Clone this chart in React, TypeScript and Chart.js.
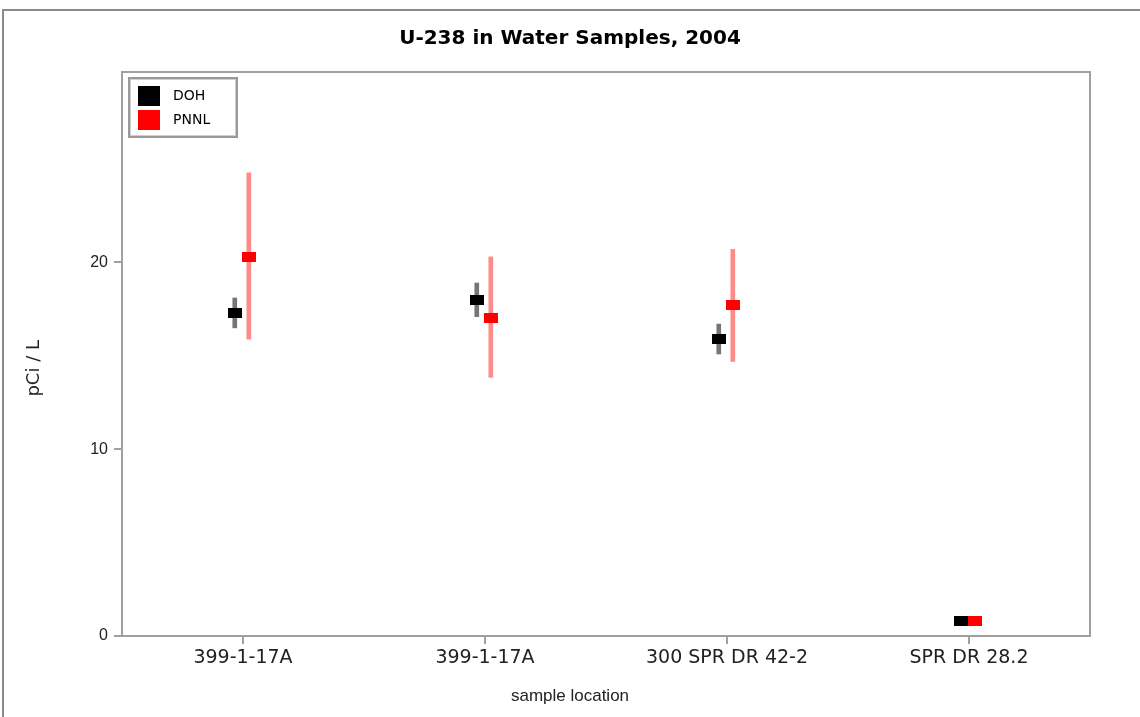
import React, { useEffect, useRef } from 'react';
import { Chart, registerables } from 'chart.js';

Chart.register(...registerables);

// ---- data ----
const categories = ['399-1-17A', '399-1-17A', '300 SPR DR 42-2', 'SPR DR 28.2'];
const seriesNames = ['DOH', 'PNNL'];
const dohValues = [17.3, 18.0, 15.9, 0.8];
const dohLow = [16.5, 17.1, 15.1, 0.8];
const dohHigh = [18.1, 18.9, 16.7, 0.8];
const pnnlValues = [20.3, 17.05, 17.7, 0.8];
const pnnlLow = [15.9, 13.85, 14.7, 0.8];
const pnnlHigh = [24.8, 20.3, 20.7, 0.8];
const yTickValues = [0, 10, 20];

// ---- layout / style constants ----
const DOH_SHIFT = -0.034;
const PNNL_SHIFT = 0.024;
const FONT = "'Liberation Sans', Arial, sans-serif";
const WIDE = "'DejaVu Sans', Verdana, sans-serif";

function rectImage(w: number, h: number, color: string) {
  const c = document.createElement('canvas');
  c.width = w;
  c.height = h;
  const ctx = c.getContext('2d')!;
  ctx.fillStyle = color;
  ctx.fillRect(0, 0, w, h);
  return c;
}

export default function App() {
  const ref = useRef<HTMLCanvasElement>(null);

  useEffect(() => {
    const canvas = ref.current;
    if (!canvas) return;
    const dohMarker = rectImage(14, 10, '#000000');
    const pnnlMarker = rectImage(14, 10, '#ff0000');
    const dohLegend = rectImage(22, 20, '#000000');
    const pnnlLegend = rectImage(22, 20, '#ff0000');

    const framePlugin = {
      id: 'frames',
      afterLayout(chart: any) {
        const lg = chart.legend;
        const ca = chart.chartArea;
        if (lg) {
          const w = lg.width;
          const h = lg.height;
          lg.left = ca.left;
          lg.top = ca.top + 7;
          lg.right = lg.left + w;
          lg.bottom = lg.top + h;
        }
      },
      beforeDatasetsDraw(chart: any) {
        const { ctx, chartArea: ca } = chart;
        ctx.save();
        ctx.strokeStyle = '#a0a0a0';
        ctx.lineWidth = 2;
        ctx.strokeRect(ca.left, ca.top, ca.right - ca.left, ca.bottom - ca.top);
        ctx.restore();
      },
      afterDraw(chart: any) {
        const { ctx, chartArea: ca } = chart;
        ctx.save();
        ctx.strokeStyle = '#999999';
        ctx.lineWidth = 2;
        ctx.strokeRect(ca.left + 7, ca.top + 6, 108, 59);
        ctx.strokeStyle = '#d0d0d0';
        ctx.lineWidth = 1;
        ctx.strokeRect(ca.left + 8.5, ca.top + 7.5, 105, 56);
        ctx.restore();
      },
    };

    const chart = new Chart(canvas, {
      type: 'scatter',
      plugins: [framePlugin],
      data: {
        datasets: [
          {
            type: 'bar',
            label: seriesNames[0] + ' error',
            data: categories.map((_, i) => ({ x: i + DOH_SHIFT, y: [dohLow[i], dohHigh[i]] })) as any,
            backgroundColor: '#767676',
            borderWidth: 0,
            grouped: false,
            barPercentage: 1,
            categoryPercentage: 1,
            maxBarThickness: 4,
            order: 2,
          } as any,
          {
            type: 'bar',
            label: seriesNames[1] + ' error',
            data: categories.map((_, i) => ({ x: i + PNNL_SHIFT, y: [pnnlLow[i], pnnlHigh[i]] })) as any,
            backgroundColor: '#ff8a8a',
            borderWidth: 0,
            grouped: false,
            barPercentage: 1,
            categoryPercentage: 1,
            maxBarThickness: 4,
            order: 2,
          } as any,
          {
            type: 'scatter',
            label: seriesNames[0],
            data: categories.map((_, i) => ({ x: i + DOH_SHIFT, y: dohValues[i] })),
            pointStyle: dohMarker as any,
            pointRadius: 7,
            backgroundColor: '#000000',
            borderColor: '#000000',
            showLine: false,
            order: 1,
          },
          {
            type: 'scatter',
            label: seriesNames[1],
            data: categories.map((_, i) => ({ x: i + PNNL_SHIFT, y: pnnlValues[i] })),
            pointStyle: pnnlMarker as any,
            pointRadius: 7,
            backgroundColor: '#ff0000',
            borderColor: '#ff0000',
            showLine: false,
            order: 1,
          },
        ],
      },
      options: {
        responsive: false,
        animation: false,
        events: [],
        layout: { padding: 0 },
        plugins: {
          title: {
            display: true,
            text: 'U-238 in Water Samples, 2004',
            color: '#000',
            font: { family: WIDE, size: 20, weight: 'bold' },
            padding: { top: 27, bottom: 21 },
          },
          subtitle: {
            display: true,
            position: 'bottom',
            text: 'sample location',
            color: '#222',
            font: { family: FONT, size: 17, weight: 'normal' },
            padding: { top: 0, bottom: 10 },
          },
          legend: {
            position: 'chartArea' as any,
            align: 'start',
            labels: {
              usePointStyle: true,
              pointStyleWidth: 34,
              boxHeight: 20,
              padding: 10,
              color: '#000',
              font: { family: WIDE, size: 14 },
              generateLabels: () => [
                { text: seriesNames[0], pointStyle: dohLegend as any, fillStyle: '#000', strokeStyle: '#000', lineWidth: 0, hidden: false, datasetIndex: 2 },
                { text: seriesNames[1], pointStyle: pnnlLegend as any, fillStyle: '#f00', strokeStyle: '#f00', lineWidth: 0, hidden: false, datasetIndex: 3 },
              ],
            },
          },
          tooltip: { enabled: false },
        },
        scales: {
          x: {
            type: 'linear',
            min: -0.5,
            max: 3.5,
            offset: false,
            afterBuildTicks: (s: any) => {
              s.ticks = categories.map((_, i) => ({ value: i }));
            },
            afterFit: (s: any) => {
              s.height = 50.6;
            },
            ticks: {
              callback: (v: any) => categories[Math.round(Number(v))] ?? '',
              color: '#222',
              font: { family: WIDE, size: 19 },
              padding: 3,
              autoSkip: false,
              maxRotation: 0,
            },
            grid: { offset: false, drawOnChartArea: false, drawTicks: true, tickLength: 8, color: '#a0a0a0', lineWidth: 2 },
            border: { display: false },
          },
          y: {
            type: 'linear',
            min: 0,
            max: 30.2,
            afterBuildTicks: (s: any) => {
              s.ticks = yTickValues.map((v) => ({ value: v }));
            },
            afterFit: (s: any) => {
              s.width = 122;
            },
            title: {
              display: true,
              text: 'pCi / L     ',
              color: '#222',
              font: { family: WIDE, size: 18 },
              padding: { top: 24, bottom: 0 },
            },
            ticks: {
              color: '#222',
              font: { family: FONT, size: 16 },
              padding: 6,
            },
            grid: { offset: false, drawOnChartArea: false, drawTicks: true, tickLength: 8, color: '#a0a0a0', lineWidth: 2 },
            border: { display: false },
          },
          y2: {
            type: 'linear',
            position: 'right',
            display: true,
            afterFit: (s: any) => {
              s.width = 50;
            },
            grid: { display: false },
            ticks: { display: false },
            border: { display: false },
          },
        },
      } as any,
    });
    return () => chart.destroy();
  }, []);

  return (
    <div
      style={{
        position: 'fixed',
        left: 0,
        top: 0,
        width: 1140,
        height: 717,
        overflow: 'hidden',
        background: '#ffffff',
      }}
    >
      <div
        style={{
          position: 'absolute',
          left: 2,
          top: 9,
          width: 1200,
          height: 800,
          border: '2px solid #8a8a8a',
          boxSizing: 'border-box',
        }}
      />
      <canvas
        ref={ref}
        width={1140}
        height={717}
        style={{ position: 'absolute', left: 0, top: 0, width: 1140, height: 717, display: 'block' }}
      />
    </div>
  );
}
